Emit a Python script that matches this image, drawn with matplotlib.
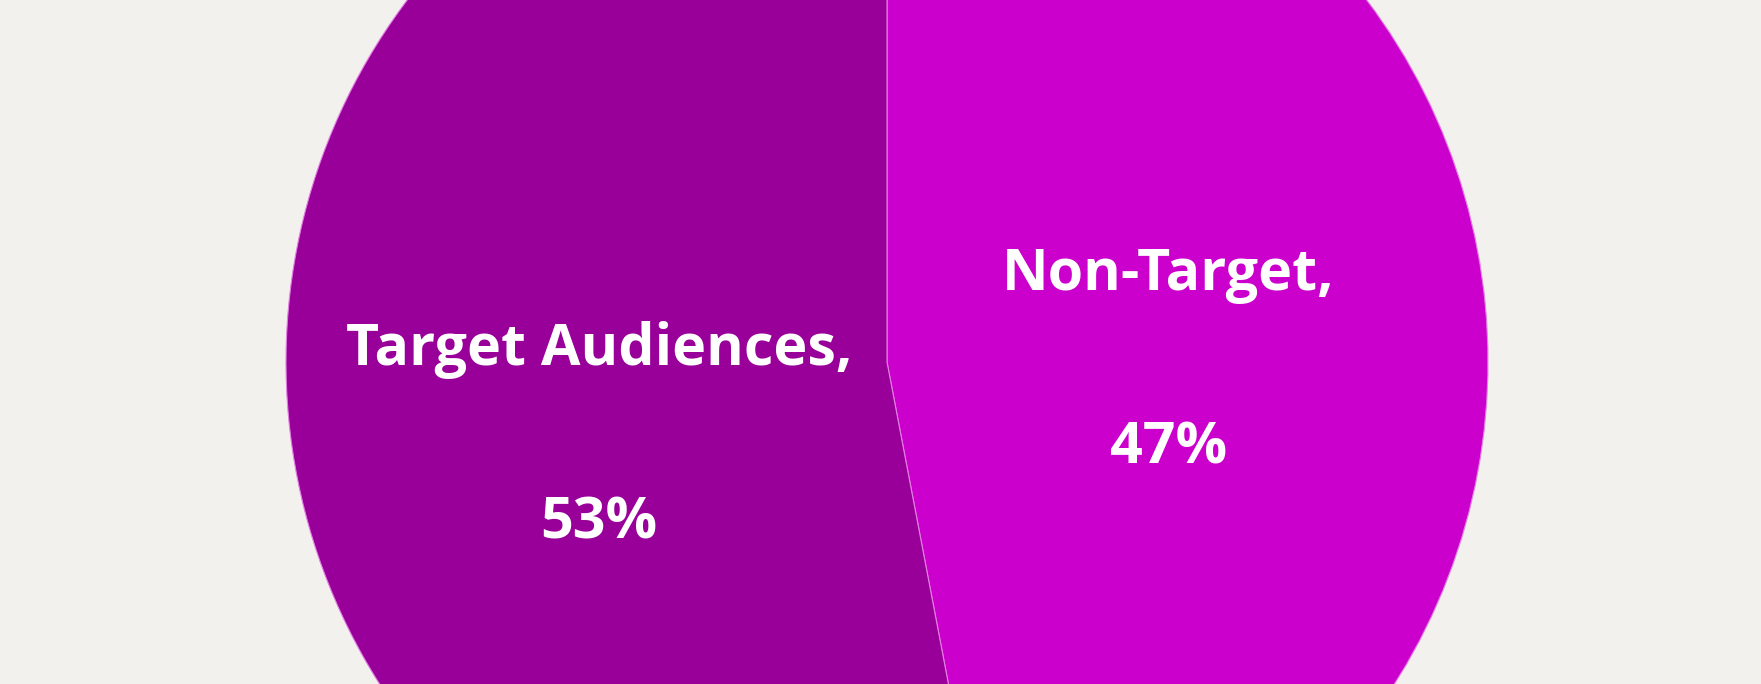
import matplotlib
matplotlib.use("Agg")
import matplotlib.pyplot as plt

labels = ["Non-Target", "Target Audiences"]
values = [47, 53]
colors = ["#CC00CC", "#990099"]
label_pos = [(0.468, 0.001), (-0.479, -0.125)]

bg = "#F3F1EE"
fig = plt.figure(figsize=(17.61, 6.84), dpi=100, facecolor=bg)
ax = fig.add_axes([0, 0, 1, 1])
ax.set_facecolor(bg)

ax.pie(values, colors=colors, startangle=90, counterclock=False, radius=1,
       wedgeprops=dict(edgecolor="#E27FE2", linewidth=0.8))

for lab, val, (x, y) in zip(labels, values, label_pos):
    ax.text(x, y, f"{lab},\n{val}%", ha="center", va="center", color="white",
            fontsize=41.3, fontweight="bold",
            family=["Open Sans", "DejaVu Sans"],
            linespacing=3.63, multialignment="center")

ax.set_aspect("auto")
ax.set_xlim(-887 / 601, (1761 - 887) / 601)
ax.set_ylim(-(684 - 362) / 601, 362 / 601)
ax.axis("off")

fig.savefig("out.png", dpi=100, facecolor=bg)
